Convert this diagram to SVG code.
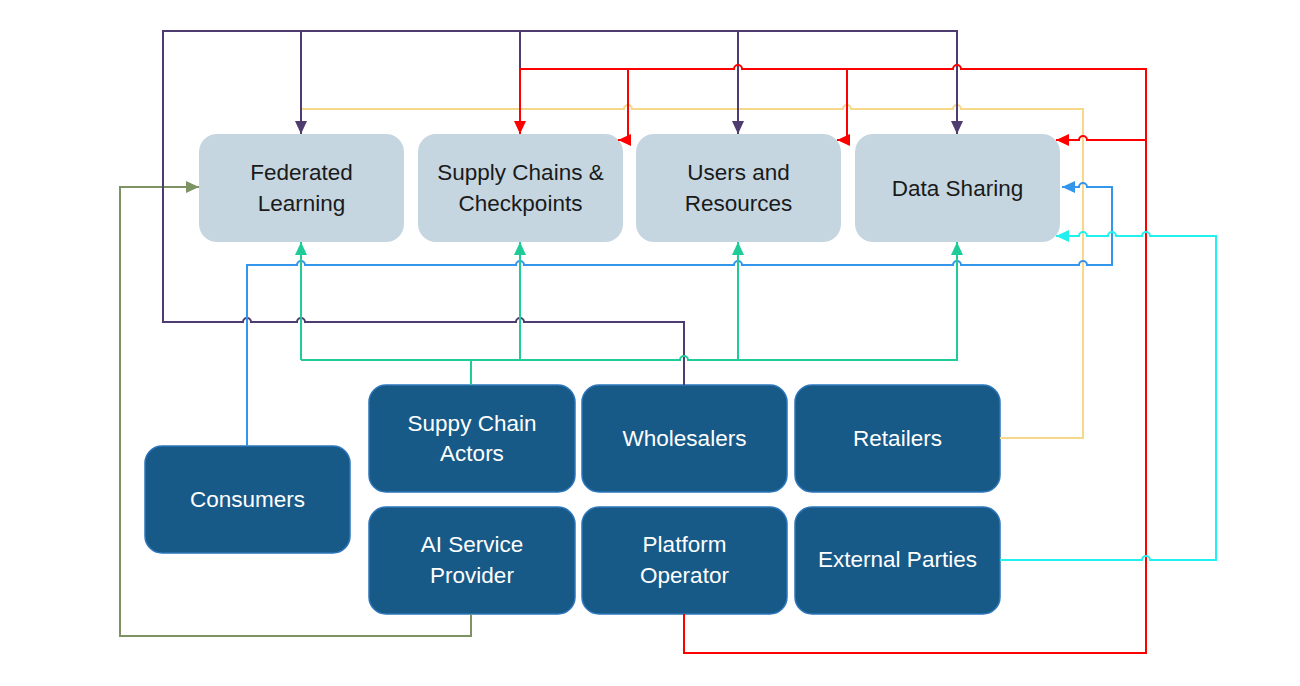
<svg xmlns="http://www.w3.org/2000/svg" width="1300" height="686" viewBox="0 0 1300 686">
<style>
.top rect{fill:#c5d6e1;}
.bot rect{fill:#175a88;stroke:#2d76bb;stroke-width:1.5;}
text{font-family:"Liberation Sans",Arial,sans-serif;font-size:22.5px;text-anchor:middle;}
.top text{fill:#1a1a1a;}
.bot text{fill:#ffffff;}
.c{fill:none;stroke-width:2;stroke-linejoin:miter;}
.pu{stroke:#4e3b70;}
.rd{stroke:#ff0000;}
.ye{stroke:#f5d88a;}
.bl{stroke:#3396ea;}
.cy{stroke:#22f0ee;}
.gr{stroke:#1fcc98;}
.ol{stroke:#7d9363;}
</style>
<defs>
<marker id="aPu" markerUnits="userSpaceOnUse" markerWidth="13" markerHeight="12" refX="13" refY="6" orient="auto"><path d="M0,0 L13,6 L0,12 z" fill="#4e3b70"/></marker>
<marker id="aRd" markerUnits="userSpaceOnUse" markerWidth="13" markerHeight="12" refX="13" refY="6" orient="auto"><path d="M0,0 L13,6 L0,12 z" fill="#ff0000"/></marker>
<marker id="aBl" markerUnits="userSpaceOnUse" markerWidth="13" markerHeight="12" refX="13" refY="6" orient="auto"><path d="M0,0 L13,6 L0,12 z" fill="#3396ea"/></marker>
<marker id="aCy" markerUnits="userSpaceOnUse" markerWidth="13" markerHeight="12" refX="13" refY="6" orient="auto"><path d="M0,0 L13,6 L0,12 z" fill="#22f0ee"/></marker>
<marker id="aGr" markerUnits="userSpaceOnUse" markerWidth="13" markerHeight="12" refX="13" refY="6" orient="auto"><path d="M0,0 L13,6 L0,12 z" fill="#1fcc98"/></marker>
<marker id="aOl" markerUnits="userSpaceOnUse" markerWidth="13" markerHeight="12" refX="13" refY="6" orient="auto"><path d="M0,0 L13,6 L0,12 z" fill="#7d9363"/></marker>
</defs>
<rect width="1300" height="686" fill="#ffffff"/>

<g id="node-federated-learning" class="top"><rect x="199" y="134" width="205" height="108" rx="18"/><text x="301.5" y="180">Federated</text><text x="301.5" y="211">Learning</text></g>
<g id="node-supply-chains" class="top"><rect x="418" y="134" width="205" height="108" rx="18"/><text x="520.5" y="180">Supply Chains &amp;</text><text x="520.5" y="211">Checkpoints</text></g>
<g id="node-users-resources" class="top"><rect x="636" y="134" width="205" height="108" rx="18"/><text x="738.5" y="180">Users and</text><text x="738.5" y="211">Resources</text></g>
<g id="node-data-sharing" class="top"><rect x="855" y="134" width="205" height="108" rx="18"/><text x="957.5" y="196">Data Sharing</text></g>

<g id="node-consumers" class="bot"><rect x="145" y="446" width="205" height="107" rx="17"/><text x="247.5" y="507">Consumers</text></g>
<g id="node-supply-chain-actors" class="bot"><rect x="369" y="385" width="206" height="107" rx="17"/><text x="472" y="431">Suppy Chain</text><text x="472" y="461">Actors</text></g>
<g id="node-wholesalers" class="bot"><rect x="582" y="385" width="205" height="107" rx="17"/><text x="684.5" y="446">Wholesalers</text></g>
<g id="node-retailers" class="bot"><rect x="795" y="385" width="205" height="107" rx="17"/><text x="897.5" y="446">Retailers</text></g>
<g id="node-ai-service-provider" class="bot"><rect x="369" y="507" width="206" height="107" rx="17"/><text x="472" y="552">AI Service</text><text x="472" y="583">Provider</text></g>
<g id="node-platform-operator" class="bot"><rect x="582" y="507" width="205" height="107" rx="17"/><text x="684.5" y="552">Platform</text><text x="684.5" y="583">Operator</text></g>
<g id="node-external-parties" class="bot"><rect x="795" y="507" width="205" height="107" rx="17"/><text x="897.5" y="567">External Parties</text></g>

<g id="connectors">
<path class="c ol" d="M471,614 V636 H120 V187 H199" marker-end="url(#aOl)"/>
<path class="c ye" d="M1000,438 H1083 V109 H961 a4,4 0 0 0 -8,0 H851 a4,4 0 0 0 -8,0 H632 a4,4 0 0 0 -8,0 H301"/>
<path class="c pu" d="M684,385 V322 H524 a4,4 0 0 0 -8,0 H305 a4,4 0 0 0 -8,0 H251 a4,4 0 0 0 -8,0 H163 V31 H957 V134" marker-end="url(#aPu)"/>
<path class="c pu" d="M301,31 V134" marker-end="url(#aPu)"/>
<path class="c pu" d="M738,31 V134" marker-end="url(#aPu)"/>
<path class="c pu" d="M520,31 V69"/>
<path class="c rd" d="M684,614 V653 H1146 V69 H961 a4,4 0 0 0 -8,0 H742 a4,4 0 0 0 -8,0 H520 V134" marker-end="url(#aRd)"/>
<path class="c rd" d="M628,69 V140 H618" marker-end="url(#aRd)"/>
<path class="c rd" d="M847,69 V140 H837" marker-end="url(#aRd)"/>
<path class="c rd" d="M1146,140 H1087 a4,4 0 0 0 -8,0 H1056" marker-end="url(#aRd)"/>
<path class="c bl" d="M247,446 V265 H297 a4,4 0 0 1 8,0 H516 a4,4 0 0 1 8,0 H734 a4,4 0 0 1 8,0 H953 a4,4 0 0 1 8,0 H1079 a4,4 0 0 1 8,0 H1112 V187 H1087 a4,4 0 0 0 -8,0 H1062" marker-end="url(#aBl)"/>
<path class="c cy" d="M1000,560 H1142 a4,4 0 0 1 8,0 H1216 V236 H1150 a4,4 0 0 0 -8,0 H1116 a4,4 0 0 0 -8,0 H1087 a4,4 0 0 0 -8,0 H1056" marker-end="url(#aCy)"/>
<path class="c gr" d="M471,385 V360"/>
<path class="c gr" d="M301,360 H680 a4,4 0 0 1 8,0 H957 V242" marker-end="url(#aGr)"/>
<path class="c gr" d="M301,360 V242" marker-end="url(#aGr)"/>
<path class="c gr" d="M520,360 V242" marker-end="url(#aGr)"/>
<path class="c gr" d="M738,360 V242" marker-end="url(#aGr)"/>
</g>
</svg>
